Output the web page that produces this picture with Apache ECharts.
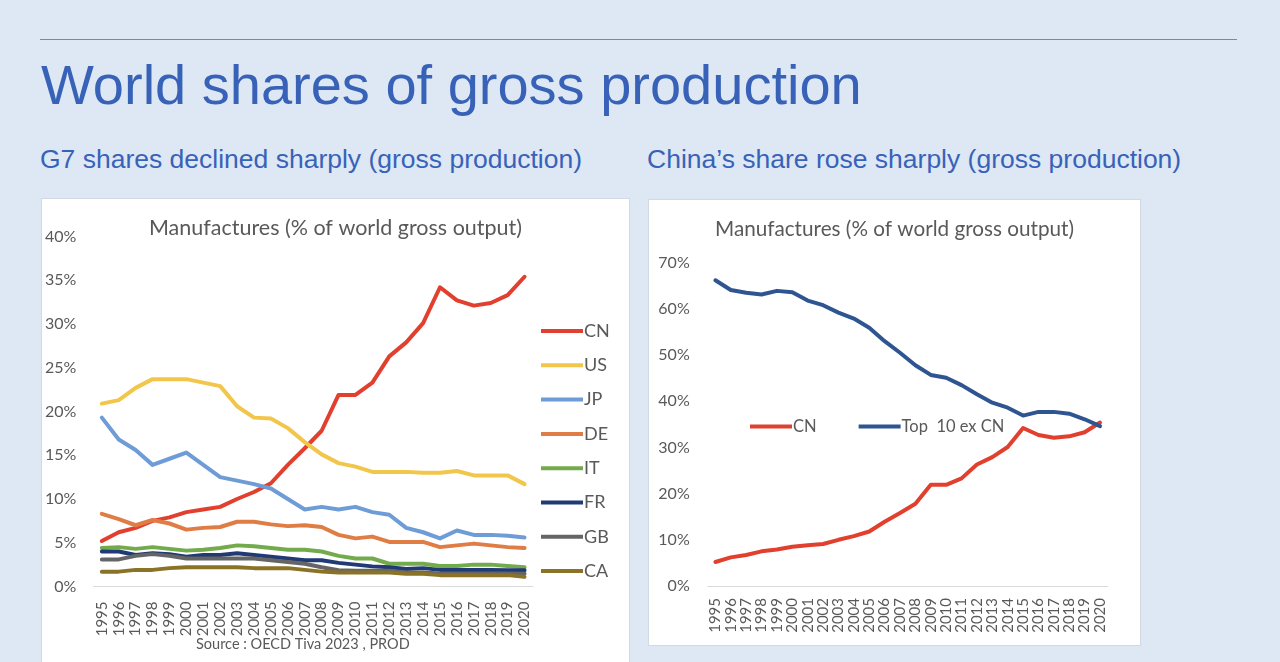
<!DOCTYPE html>
<html>
<head>
<meta charset="utf-8">
<script src="https://cdn.jsdelivr.net/npm/echarts@6/dist/echarts.min.js"></script>
<style>
  html, body { margin: 0; padding: 0; }
  body { width: 1280px; height: 662px; background: #dde8f4; position: relative; overflow: hidden; font-family: "Liberation Sans", Arial, sans-serif; }
  .rule { position: absolute; left: 40px; top: 39px; width: 1197px; height: 1px; background: #5d8ddb; }
  h1 { position: absolute; left: 41px; top: 52px; margin: 0; font-weight: normal; font-size: 56px; color: #3862b8; white-space: nowrap; }
  h2 { position: absolute; top: 144px; margin: 0; font-weight: normal; font-size: 26.5px; color: #3862b8; white-space: nowrap; }
  .box { position: absolute; background: #fff; border: 1px solid #d3d9e0; }
  #left { left: 41px; top: 198px; width: 587px; height: 470px; }
  #right { left: 648px; top: 199px; width: 491px; height: 445px; }
</style>
</head>
<body>
<div class="rule"></div>
<h1>World shares of gross production</h1>
<h2 style="left:40px">G7 shares declined sharply (gross production)</h2>
<h2 style="left:647px">China’s share rose sharply (gross production)</h2>
<div class="box" id="left"></div>
<div class="box" id="right"></div>
<script>
var years = ['1995','1996','1997','1998','1999','2000','2001','2002','2003','2004','2005','2006','2007','2008','2009','2010','2011','2012','2013','2014','2015','2016','2017','2018','2019','2020'];

// shares of world gross output, %
var cn = [5.2,6.2,6.7,7.5,7.9,8.5,8.8,9.1,10.0,10.8,11.8,13.9,15.8,17.8,21.9,21.9,23.3,26.3,27.9,30.1,34.2,32.7,32.1,32.4,33.3,35.4];
var us = [20.9,21.3,22.7,23.7,23.7,23.7,23.3,22.9,20.6,19.3,19.2,18.1,16.5,15.1,14.1,13.7,13.1,13.1,13.1,13.0,13.0,13.2,12.7,12.7,12.7,11.7];
var jp = [19.3,16.8,15.6,13.9,14.6,15.3,13.9,12.5,12.1,11.7,11.2,10.0,8.8,9.1,8.8,9.1,8.5,8.2,6.7,6.2,5.5,6.4,5.9,5.9,5.8,5.6];
var de = [8.3,7.7,7.0,7.6,7.2,6.5,6.7,6.8,7.4,7.4,7.1,6.9,7.0,6.8,5.9,5.5,5.7,5.1,5.1,5.1,4.5,4.7,4.9,4.7,4.5,4.4];
var it = [4.4,4.5,4.3,4.5,4.3,4.1,4.2,4.4,4.7,4.6,4.4,4.2,4.2,4.0,3.5,3.2,3.2,2.6,2.6,2.6,2.35,2.35,2.5,2.5,2.35,2.2];
var fr = [4.0,4.0,3.6,3.8,3.7,3.4,3.6,3.6,3.8,3.6,3.4,3.2,3.0,3.0,2.7,2.5,2.3,2.2,2.0,2.1,1.9,1.9,1.9,1.9,1.85,1.85];
var gb = [3.1,3.1,3.5,3.7,3.5,3.2,3.2,3.2,3.2,3.2,3.0,2.8,2.6,2.2,1.85,1.8,1.8,1.8,1.6,1.6,1.5,1.5,1.5,1.5,1.5,1.45];
var ca = [1.7,1.7,1.9,1.9,2.1,2.2,2.2,2.2,2.2,2.1,2.1,2.1,1.9,1.7,1.6,1.6,1.6,1.6,1.45,1.45,1.3,1.3,1.3,1.3,1.3,1.1];
var top10 = [66.2,64.1,63.5,63.1,63.9,63.6,61.8,60.8,59.2,57.9,55.9,53.0,50.5,47.8,45.7,45.1,43.5,41.5,39.7,38.6,36.9,37.7,37.7,37.3,36.1,34.6];

var g7Names = ['CN','US','JP','DE','IT','FR','GB','CA'];
var g7Data = [cn, us, jp, de, it, fr, gb, ca];
var g7Colors = ['#e2402f','#f2c64b','#6e9cd6','#df7d44','#73ab4c','#203a75','#656565','#8a7227'];

var FONT = 'Lato, "Open Sans", sans-serif';
var GREY = '#595959';

function lineSeries(name, data, color) {
	return {
		name: name, type: 'line', data: data,
		showSymbol: false, symbol: 'none',
		lineStyle: { width: 4, color: color, cap: 'round', join: 'round' },
		itemStyle: { color: color }
	};
}

function baseAxes(max, step, margin, xMargin) {
	return {
		xAxis: {
			type: 'category', data: years, boundaryGap: true,
			axisLine: { lineStyle: { color: '#d9d9d9', width: 1 } },
			axisTick: { show: false },
			axisLabel: { rotate: 90, interval: 0, color: GREY, fontSize: 15, fontFamily: FONT, margin: xMargin }
		},
		yAxis: {
			type: 'value', min: 0, max: max, interval: step,
			axisLine: { show: false }, axisTick: { show: false }, splitLine: { show: false },
			axisLabel: { formatter: '{value}%', color: GREY, fontSize: 16, fontFamily: FONT, margin: margin }
		}
	};
}

// left chart: G7
var leftChart = echarts.init(document.getElementById('left'));
var la = baseAxes(40, 5, 17, 15);
leftChart.setOption({
	animation: false,
	title: [{
		text: 'Manufactures (% of world gross output)', left: 'center', top: 13,
		textStyle: { color: GREY, fontSize: 21.5, fontWeight: 'normal', fontFamily: FONT }
	}, {
		text: 'Source : OECD Tiva 2023 , PROD', left: 149, top: 433,
		textStyle: { color: GREY, fontSize: 14.5, fontWeight: 'normal', fontFamily: FONT }
	}],
	legend: {
		orient: 'vertical', left: 494, top: 118, itemWidth: 42, itemHeight: 14, itemGap: 16.3,
		icon: 'path://M0,0 L42,0 L42,4 L0,4 Z',
		textStyle: { color: GREY, fontSize: 18, fontFamily: FONT, padding: [0, 0, 0, -4] },
		data: g7Names
	},
	grid: { left: 51, top: 37.5, width: 440, height: 350 },
	xAxis: la.xAxis,
	yAxis: la.yAxis,
	series: g7Names.map(function (n, i) { return lineSeries(n, g7Data[i], g7Colors[i]); })
});

// right chart: China vs top 10 ex China
var rightChart = echarts.init(document.getElementById('right'));
var ra = baseAxes(70, 10, 18, 12);
rightChart.setOption({
	animation: false,
	title: {
		text: 'Manufactures (% of world gross output)', left: 'center', top: 14,
		textStyle: { color: GREY, fontSize: 20.7, fontWeight: 'normal', fontFamily: FONT }
	},
	legend: {
		left: 96, top: 213, itemWidth: 42, itemHeight: 14, itemGap: 42,
		icon: 'path://M0,0 L42,0 L42,4 L0,4 Z',
		textStyle: { color: GREY, fontSize: 16.5, fontFamily: FONT, padding: [0, 0, 0, -4] },
		data: ['CN', 'Top  10 ex CN']
	},
	grid: { left: 58.7, top: 62.7, width: 400, height: 323.3 },
	xAxis: ra.xAxis,
	yAxis: ra.yAxis,
	series: [lineSeries('CN', cn, '#e2402f'), lineSeries('Top  10 ex CN', top10, '#2e5591')]
});
</script>
</body>
</html>
